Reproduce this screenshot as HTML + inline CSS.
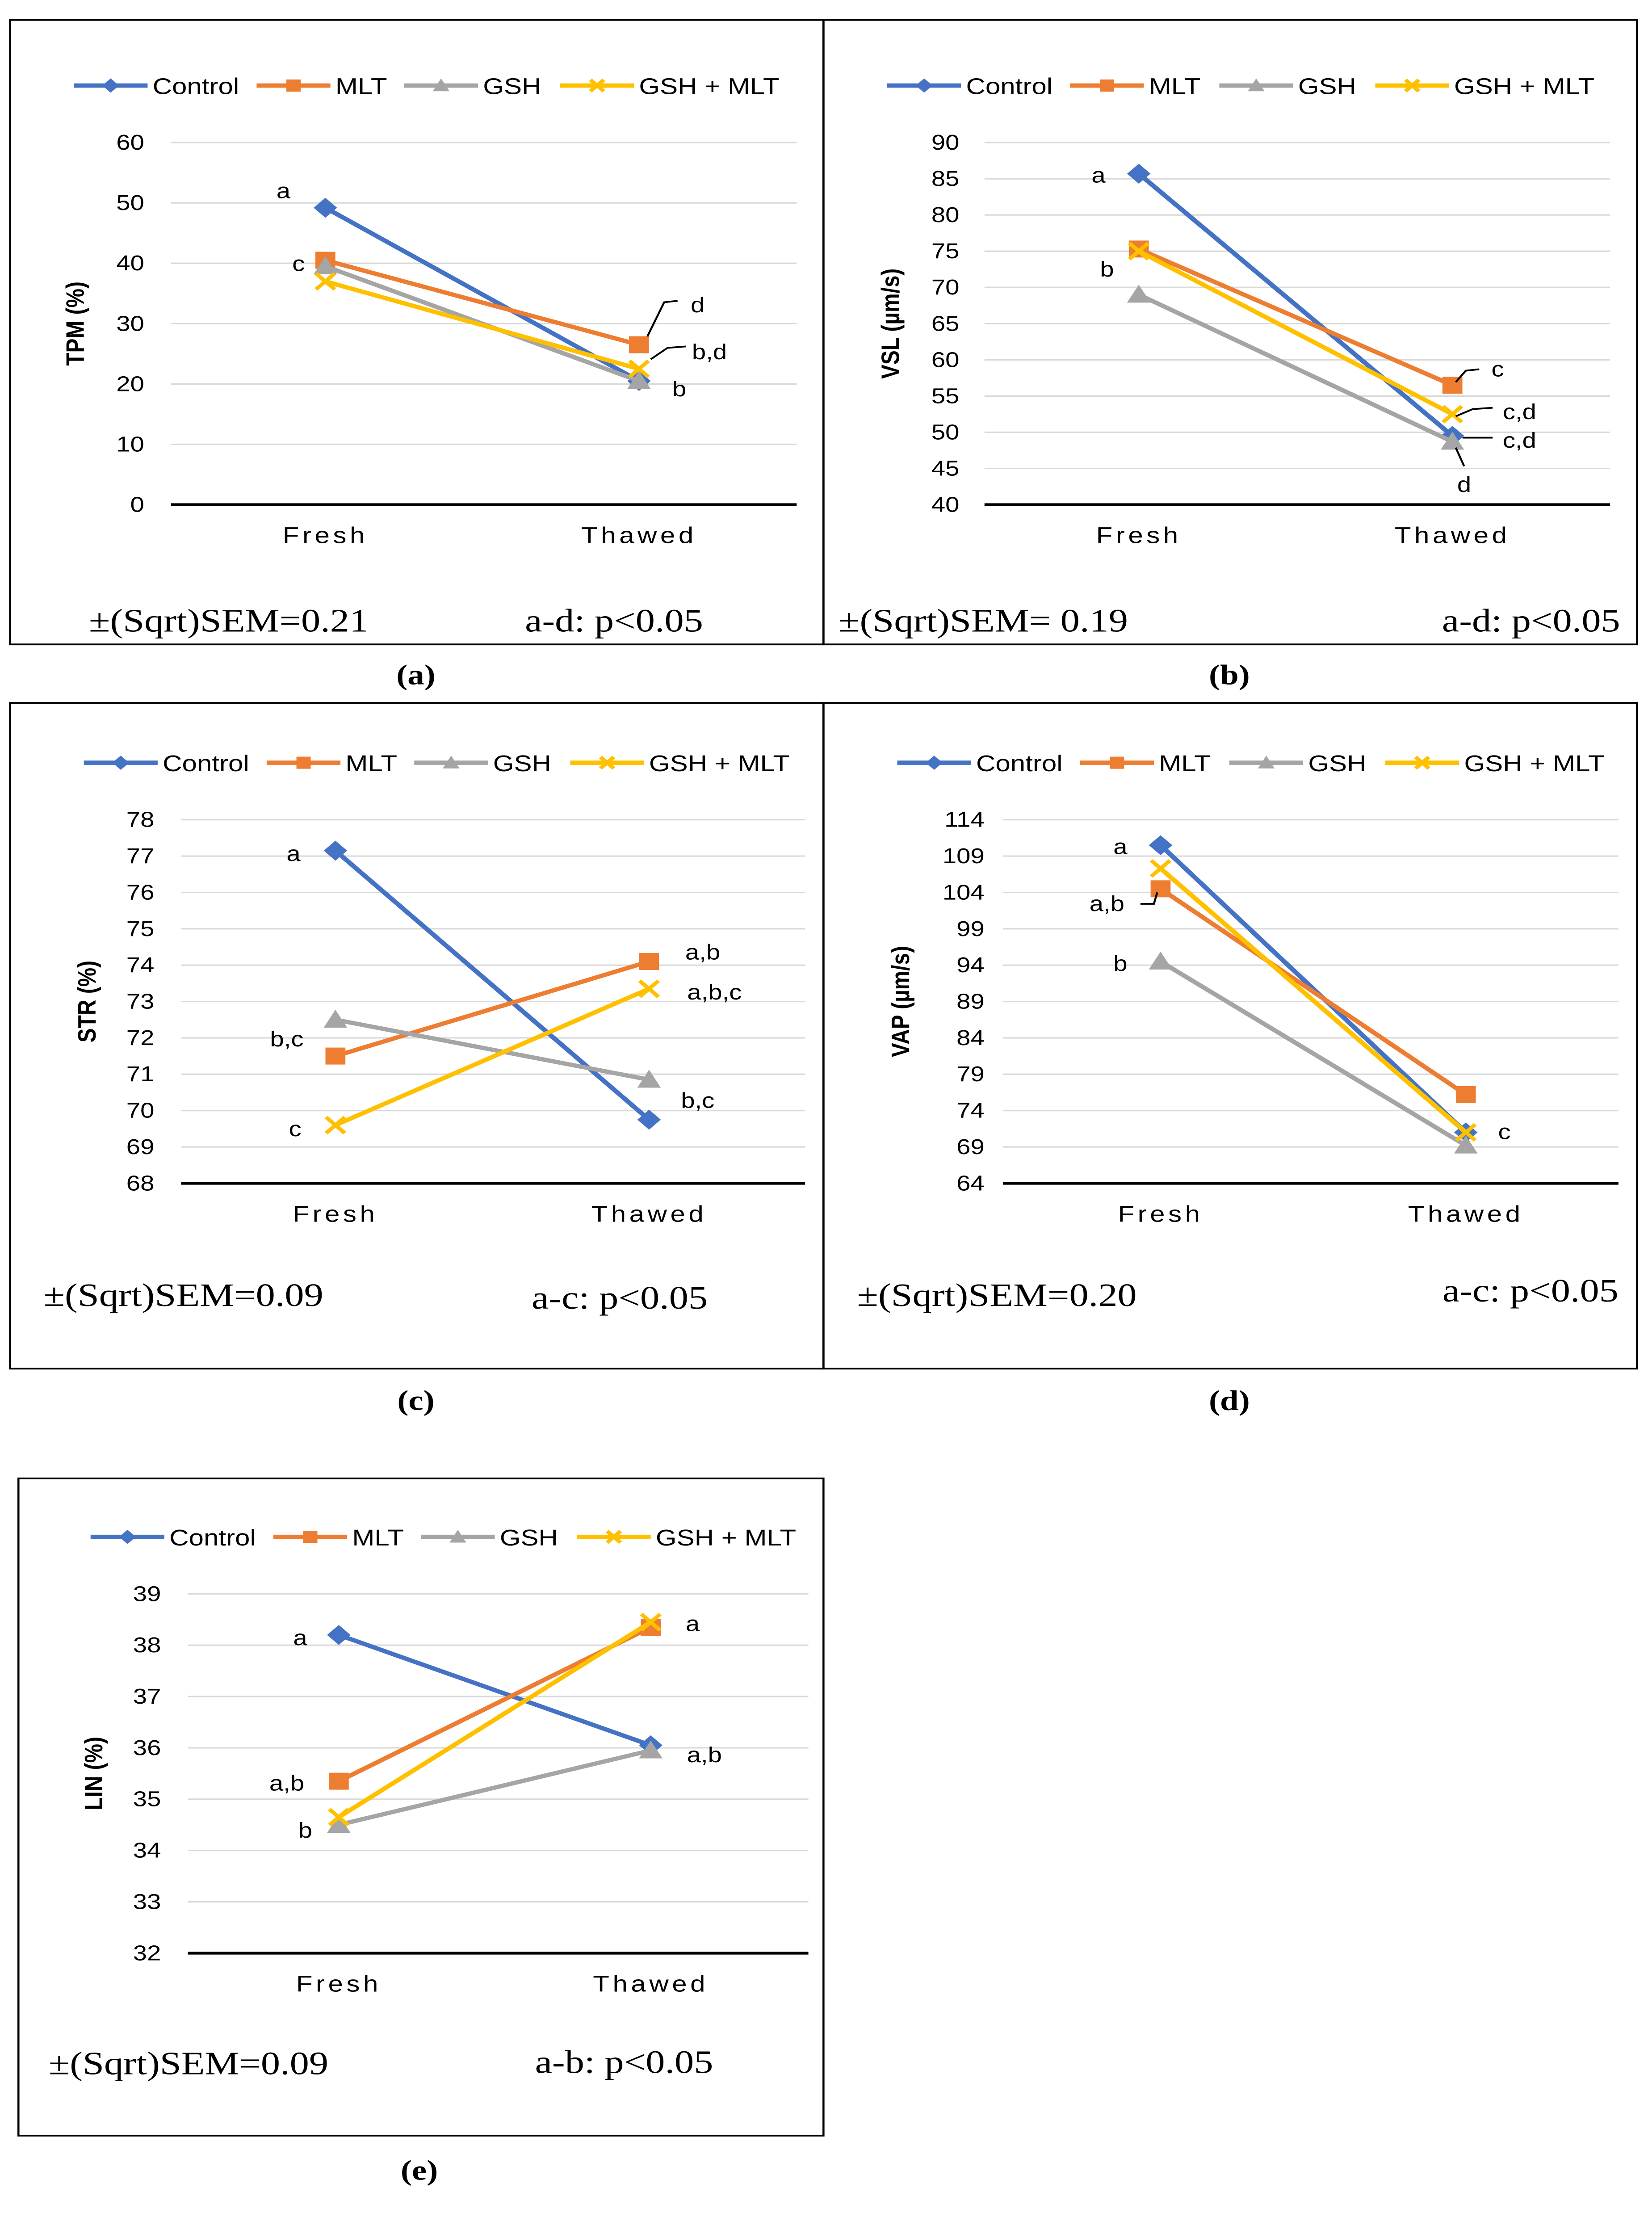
<!DOCTYPE html>
<html><head><meta charset="utf-8">
<style>
html,body{margin:0;padding:0;background:#fff;width:100%;height:100%;overflow:hidden;}
svg{display:block;width:100vw;height:100vh;overflow:hidden;}
</style></head>
<body>
<svg id="fig" viewBox="0 0 985 1567" preserveAspectRatio="none" xmlns="http://www.w3.org/2000/svg" font-family="Liberation Sans, sans-serif"></svg>
<script>
const categories = ["Fresh", "Thawed"];
const seriesNames = ["Control", "MLT", "GSH", "GSH + MLT"];
const tpmControl = [49.2, 20.5], tpmMLT = [40.5, 26.5], tpmGSH = [39.5, 20.5], tpmGM = [37, 22.5];
const vslControl = [85.7, 49.5], vslMLT = [75.3, 56.5], vslGSH = [69, 48.7], vslGM = [75, 52.5];
const strControl = [77.15, 69.75], strMLT = [71.5, 74.1], strGSH = [72.5, 70.85], strGM = [69.6, 73.35];
const vapControl = [110.5, 71], vapMLT = [104.5, 76.2], vapGSH = [94.5, 69.2], vapGM = [107.3, 71];
const linControl = [38.2, 36.05], linMLT = [35.35, 38.35], linGSH = [34.5, 35.95], linGM = [34.65, 38.45];
const tpmTicks = [0,10,20,30,40,50,60];
const vslTicks = [40,45,50,55,60,65,70,75,80,85,90];
const strTicks = [68,69,70,71,72,73,74,75,76,77,78];
const vapTicks = [64,69,74,79,84,89,94,99,104,109,114];
const linTicks = [32,33,34,35,36,37,38,39];

const colors = ["#4472C4", "#ED7D31", "#A5A5A5", "#FFC000"];
const NS = "http://www.w3.org/2000/svg";
const svg = document.getElementById("fig");
function el(tag, attrs, parent, text) {
  const e = document.createElementNS(NS, tag);
  for (const k in attrs) e.setAttribute(k, attrs[k]);
  if (text !== undefined) e.textContent = text;
  (parent || svg).appendChild(e);
  return e;
}
function marker(g, i, x, y, s) {
  const c = colors[i];
  let m;
  if (i === 0) m = el("polygon", {points: `${x},${y-s} ${x+s},${y} ${x},${y+s} ${x-s},${y}`, fill: c}, g);
  else if (i === 1) m = el("rect", {x: x-s*0.85, y: y-s*0.85, width: s*1.7, height: s*1.7, fill: c}, g);
  else if (i === 2) m = el("polygon", {points: `${x},${y-s} ${x+s},${y+s*0.8} ${x-s},${y+s*0.8}`, fill: c}, g);
  else {
    m = el("path", {d: `M${x-s*0.8},${y-s*0.8}L${x+s*0.8},${y+s*0.8}M${x+s*0.8},${y-s*0.8}L${x-s*0.8},${y+s*0.8}`, stroke: c, "stroke-width": 2.5, fill: "none"}, g);
  }
  
  
}

const panels = [
  {id:"a", box:[6,14,485,438], label:[248,473], px:[102,475], y0:354, y1:100, ticks:tpmTicks, tx:86, cx:[194,381], title:"TPM (%)", titleX:50, legY:60, legX:[44,153,241,334],
   data:[tpmControl,tpmMLT,tpmGSH,tpmGM], catY:376,
   letters:[["a",169,134],["c",178,185],["d",416,214],["b,d",423,247],["b",405,273]],
   leaders:["M404,211 L396,212 L386,236","M409,243 L398,244 L388,252"],
   foot:[["±(Sqrt)SEM=0.21",53,435,"start"],["a-d: p<0.05",313,435,"start"]]},
  {id:"b", box:[491,14,485,438], label:[733,473], px:[587,960], y0:354, y1:100, ticks:vslTicks, tx:572, cx:[679,866], title:"VSL (µm/s)", titleX:536, legY:60, legX:[529,638,727,820],
   data:[vslControl,vslMLT,vslGSH,vslGM], catY:376,
   letters:[["a",655,123],["b",660,189],["c",893,259],["c,d",906,289],["c,d",906,309],["d",873,340]],
   leaders:["M882,259 L874,260 L868,268","M890,286 L878,287 L868,292","M890,307 L872,307","M873,327 L868,314"],
   foot:[["±(Sqrt)SEM= 0.19",500,435,"start"],["a-d: p<0.05",966,435,"end"]]},
  {id:"c", box:[6,493,485,467], label:[248,982], px:[108,480], y0:830, y1:575, ticks:strTicks, tx:92, cx:[200,387], title:"STR (%)", titleX:57, legY:535, legX:[50,159,247,340],
   data:[strControl,strMLT,strGSH,strGM], catY:852,
   letters:[["a",175,599],["b,c",171,729],["c",176,792],["a,b",419,668],["a,b,c",426,696],["b,c",416,772]],
   leaders:[],
   foot:[["±(Sqrt)SEM=0.09",26,908,"start"],["a-c: p<0.05",317,910,"start"]]},
  {id:"d", box:[491,493,485,467], label:[733,982], px:[598,965], y0:830, y1:575, ticks:vapTicks, tx:587, cx:[692,874], title:"VAP (µm/s)", titleX:542, legY:535, legX:[535,644,733,826],
   data:[vapControl,vapMLT,vapGSH,vapGM], catY:852,
   letters:[["a",668,594],["a,b",660,634],["b",668,676],["c",897,794]],
   leaders:["M680,634 L688,634 L690,626"],
   foot:[["±(Sqrt)SEM=0.20",511,908,"start"],["a-c: p<0.05",965,905,"end"]]},
  {id:"e", box:[11,1037,480,461], label:[250,1522], px:[112,482], y0:1370, y1:1118, ticks:linTicks, tx:96, cx:[202,388], title:"LIN (%)", titleX:61, legY:1078, legX:[54,163,251,344],
   data:[linControl,linMLT,linGSH,linGM], catY:1392,
   letters:[["a",179,1149],["a,b",171,1251],["b",182,1284],["a",413,1139],["a,b",420,1231]],
   leaders:[],
   foot:[["±(Sqrt)SEM=0.09",29,1447,"start"],["a-b: p<0.05",319,1446,"start"]]}
];

panels.forEach(p => {
  const g = el("g", {});
  
  
  const box = el("rect", {x:p.box[0], y:p.box[1], width:p.box[2], height:p.box[3], fill:"none", stroke:"#000", "stroke-width":1.2}, g);
  
  
  const tmin = p.ticks[0], tmax = p.ticks[p.ticks.length-1];
  const yS = v => p.y0 + (v - tmin) / (tmax - tmin) * (p.y1 - p.y0);
  p.ticks.forEach((t, k) => {
    const y = yS(t);
    if (k > 0) {
      const gl = el("line", {x1:p.px[0], x2:p.px[1], y1:y, y2:y, stroke:"#D9D9D9", "stroke-width":1}, g);
      
      
    }
    const tl = el("text", {x:p.tx, y:y+5, "text-anchor":"end", "font-size":15, fill:"#000"}, g, String(t));
    
    
  });
  const ax = el("line", {x1:p.px[0], x2:p.px[1], y1:p.y0, y2:p.y0, stroke:"#000", "stroke-width":2}, g);
  
  
  const cy = (p.y0 + p.y1) / 2;
  const yt = el("text", {x:p.titleX, y:cy, "text-anchor":"middle", "font-size":15, "font-weight":"bold", transform:`rotate(-90 ${p.titleX} ${cy})`}, g, p.title);
  
  
  categories.forEach((c, k) => {
    const ct = el("text", {x:p.cx[k], y:p.catY+5, "text-anchor":"middle", "font-size":16, "letter-spacing":2}, g, c);
    
    
  });
  seriesNames.forEach((n, i) => {
    const lg = el("g", {}, g);
    
    
    const x = p.legX[i];
    el("line", {x1:x, x2:x+44, y1:p.legY, y2:p.legY, stroke:colors[i], "stroke-width":3}, lg);
    marker(lg, i, x+22, p.legY, 5);
    el("text", {x:x+47, y:p.legY+6, "font-size":16}, lg, n);
  });
  p.data.forEach((vals, i) => {
    const sg = el("g", {}, g);
    
    
    const pts = vals.map((v, k) => [p.cx[k], yS(v)]);
    el("polyline", {points: pts.map(q => q.join(",")).join(" "), fill:"none", stroke:colors[i], "stroke-width":3}, sg);
    pts.forEach(q => marker(sg, i, q[0], q[1], 7));
  });
  p.leaders.forEach(d => {
    const l = el("path", {d:d, stroke:"#000", "stroke-width":1.2, fill:"none"}, g);
    
    
  });
  p.letters.forEach(L => {
    const t = el("text", {x:L[1], y:L[2]+5, "text-anchor":"middle", "font-size":15}, g, L[0]);
    
    
  });
  p.foot.forEach(f => {
    const t = el("text", {x:f[1], y:f[2]+8, "text-anchor":f[3], "font-size":23, "font-family":"Liberation Serif, serif"}, g, f[0]);
    
    
  });
  const pl = el("text", {x:p.label[0], y:p.label[1]+7, "text-anchor":"middle", "font-size":20, "font-weight":"bold", "font-family":"Liberation Serif, serif"}, svg, "(" + p.id + ")");
  
  
});
</script>
</body></html>
